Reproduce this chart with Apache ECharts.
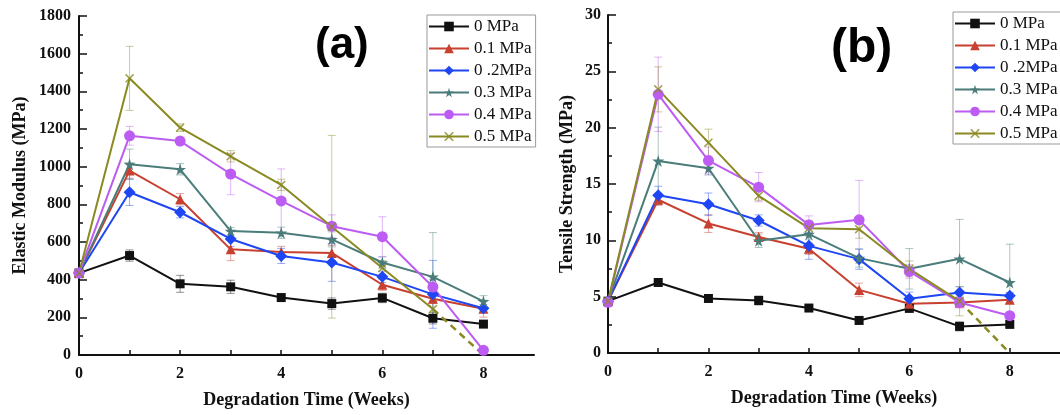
<!DOCTYPE html>
<html>
<head>
<meta charset="utf-8">
<script src="https://cdn.jsdelivr.net/npm/echarts@6/dist/echarts.min.js"></script>
<style>
  html, body { margin: 0; padding: 0; background: #fff; }
  #chart { width: 1060px; height: 415px; }
</style>
</head>
<body>
<div id="chart"></div>
<script>
// Degradation time (weeks)
const weeks = [0, 1, 2, 3, 4, 5, 6, 7, 8];
const seriesNames = ['0 MPa', '0.1 MPa', '0 .2MPa', '0.3 MPa', '0.4 MPa', '0.5 MPa'];

// (a) Elastic modulus (MPa) and error half-widths
const modulus0 = [435, 528, 378, 362, 305, 273, 303, 195, 164];
const modulus1 = [435, 979, 827, 561, 547, 542, 373, 299, 246];
const modulus2 = [435, 864, 758, 616, 526, 491, 415, 322, 248];
const modulus3 = [435, 1013, 986, 658, 649, 614, 491, 415, 285];
const modulus4 = [435, 1164, 1136, 961, 818, 684, 628, 361, 25];
const modulus5 = [435, 1469, 1207, 1055, 903, 681, 462, 244, 0];
const modulusErr0 = [0, 30, 45, 35, 20, 30, 25, 30, 15];
const modulusErr1 = [0, 40, 30, 60, 30, 40, 30, 25, 45];
const modulusErr2 = [0, 70, 30, 40, 40, 100, 30, 180, 20];
const modulusErr3 = [0, 80, 30, 20, 30, 40, 30, 235, 30];
const modulusErr4 = [0, 50, 20, 110, 170, 60, 106, 40, 20];
const modulusErr5 = [0, 170, 20, 30, 30, 485, 40, 40, 0];

// (b) Tensile strength (MPa) and error half-widths
const strength0 = [4.6, 6.26, 4.84, 4.66, 3.99, 2.89, 3.96, 2.36, 2.54];
const strength1 = [4.6, 13.6, 11.5, 10.3, 9.25, 5.6, 4.37, 4.49, 4.73];
const strength2 = [4.6, 14.0, 13.2, 11.76, 9.51, 8.33, 4.81, 5.37, 5.08];
const strength3 = [4.6, 17.05, 16.4, 9.96, 10.55, 8.42, 7.47, 8.36, 6.26];
const strength4 = [4.5, 22.96, 17.08, 14.72, 11.37, 11.82, 7.24, 4.49, 3.31];
const strength5 = [4.6, 23.4, 18.67, 13.95, 11.08, 10.99, 7.47, 4.6, 0];
const strengthErr0 = [0, 0.3, 0.3, 0.4, 0.2, 0.3, 0.3, 0.4, 0.2];
const strengthErr1 = [0, 0.5, 0.8, 0.4, 0.5, 0.6, 0.4, 0.4, 0.3];
const strengthErr2 = [0, 0.8, 1.0, 0.5, 1.2, 0.9, 0.6, 0.5, 0.3];
const strengthErr3 = [0, 3.0, 0.6, 0.6, 0.5, 0.8, 1.8, 3.5, 3.4];
const strengthErr4 = [0, 3.3, 1.2, 1.3, 0.8, 3.5, 0.6, 0.5, 0.3];
const strengthErr5 = [0, 2.0, 1.2, 0.4, 0.7, 0.8, 0.7, 1.3, 0];

// Axis ticks
const modulusTicks = { min: 0, max: 1800, interval: 200 };
const strengthTicks = { min: 0, max: 30, interval: 5 };
const weekTicks = { min: 0, max: 9, interval: 1, labelled: [0, 2, 4, 6, 8] };

const colors = ['#111111', '#c8402f', '#1e46f2', '#4a7d7a', '#bd5cf2', '#8a8a22'];
const STAR = 'path://M50,0 L61,35 L98,35 L68,57 L79,91 L50,70 L21,91 L32,57 L2,35 L39,35 Z';
const CROSS = 'path://M0,12 L12,0 L50,38 L88,0 L100,12 L62,50 L100,88 L88,100 L50,62 L12,100 L0,88 L38,50 Z';
const symbols = ['rect', 'triangle', 'diamond', STAR, 'circle', CROSS];
const symbolSizes = [9, 10, 12, 12, 11, 9];

const serif = "'Liberation Serif', 'DejaVu Serif', serif";

function pairs(vals) { return weeks.map((w, i) => [w, vals[i]]); }

function errorBars(gi, vals, errs, color) {
  const data = weeks.map((w, i) => [w, vals[i] - errs[i], vals[i] + errs[i]]).filter((d, i) => errs[i] > 0);
  return {
    type: 'custom', xAxisIndex: gi, yAxisIndex: gi, silent: true, z: 1,
    data: data,
    renderItem: function (params, api) {
      const lo = api.coord([api.value(0), api.value(1)]);
      const hi = api.coord([api.value(0), api.value(2)]);
      const cap = 4;
      const style = { stroke: color, lineWidth: 1, opacity: 0.45 };
      return {
        type: 'group',
        children: [
          { type: 'line', shape: { x1: lo[0], y1: lo[1], x2: hi[0], y2: hi[1] }, style: style },
          { type: 'line', shape: { x1: lo[0] - cap, y1: lo[1], x2: lo[0] + cap, y2: lo[1] }, style: style },
          { type: 'line', shape: { x1: hi[0] - cap, y1: hi[1], x2: hi[0] + cap, y2: hi[1] }, style: style }
        ]
      };
    }
  };
}

function panelSeries(gi, valueSets, errSets) {
  const out = [];
  valueSets.forEach((vals, k) => {
    out.push(errorBars(gi, vals, errSets[k], colors[k]));
  });
  valueSets.forEach((vals, k) => {
    const last = k === 5;
    // the 0.5 MPa curve is solid up to week 7, then dashed to its final value
    const solidData = last ? pairs(vals).slice(0, 8) : pairs(vals);
    out.push({
      name: seriesNames[k], type: 'line', xAxisIndex: gi, yAxisIndex: gi,
      data: solidData, z: 3,
      symbol: symbols[k], symbolSize: symbolSizes[k], showSymbol: true,
      itemStyle: { color: colors[k], opacity: last ? 0.8 : 1 },
      lineStyle: { color: colors[k], width: 2 },
      animation: false
    });
    if (last) {
      out.push({
        name: seriesNames[k] + ' ', type: 'line', xAxisIndex: gi, yAxisIndex: gi,
        data: pairs(vals).slice(7), z: 3, symbol: 'none',
        lineStyle: { color: colors[k], width: 2.5, type: [7, 5] },
        animation: false
      });
    }
  });
  return out;
}

function xAxisFor(gi) {
  return {
    type: 'value', gridIndex: gi, min: weekTicks.min, max: weekTicks.max, interval: weekTicks.interval,
    name: 'Degradation Time (Weeks)', nameLocation: 'middle', nameGap: 36,
    nameTextStyle: { fontFamily: serif, fontWeight: 'bold', fontSize: 18, color: '#111' },
    axisLine: { show: true, onZero: false, lineStyle: { color: '#111', width: 2 } },
    axisTick: { show: true, inside: true, length: 5, lineStyle: { color: '#111', width: 1.5 } },
    axisLabel: {
      fontFamily: serif, fontWeight: 'bold', fontSize: 16, color: '#111', margin: 11,
      showMaxLabel: false,
      formatter: v => weekTicks.labelled.indexOf(v) >= 0 ? String(v) : ''
    },
    splitLine: { show: false }
  };
}

function yAxisFor(gi, ticks, name, nameGap, margin) {
  return {
    type: 'value', gridIndex: gi, min: ticks.min, max: ticks.max, interval: ticks.interval,
    name: name, nameLocation: 'middle', nameGap: nameGap,
    nameTextStyle: { fontFamily: serif, fontWeight: 'bold', fontSize: 18, color: '#111' },
    axisLine: { show: true, lineStyle: { color: '#111', width: 2 } },
    axisTick: { show: true, inside: true, length: 8, lineStyle: { color: '#111', width: 1.5 } },
    minorTick: { show: true, splitNumber: 2, length: 4, lineStyle: { color: '#111', width: 1.5 } },
    axisLabel: { fontFamily: serif, fontWeight: 'bold', fontSize: 16, color: '#111', margin: margin, formatter: v => String(v) },
    splitLine: { show: false }
  };
}

function legendFor(left, top) {
  return {
    data: seriesNames, orient: 'vertical', left: left, top: top,
    itemWidth: 40, itemHeight: 12, itemGap: 5, itemTextGap: 3,
    padding: [3, 4, 2, 1],
    borderColor: '#999', borderWidth: 1, backgroundColor: '#fff',
    textStyle: { fontFamily: serif, fontSize: 17, color: '#111', lineHeight: 17 },
    selectedMode: false
  };
}

const chart = echarts.init(document.getElementById('chart'), null, { renderer: 'canvas' });
chart.setOption({
  animation: false,
  backgroundColor: '#fff',
  grid: [
    { left: 79, right: 526, top: 16, bottom: 60 },
    { left: 608, right: -3, top: 15, bottom: 62 }
  ],
  xAxis: [xAxisFor(0), xAxisFor(1)],
  yAxis: [
    yAxisFor(0, modulusTicks, 'Elastic Modulus (MPa)', 50, 8),
    yAxisFor(1, strengthTicks, 'Tensile Strength (MPa)', 32, 7)
  ],
  legend: [legendFor(427, 15), legendFor(953, 12)],
  graphic: [
    { type: 'text', left: 315, top: 24, style: { text: '(a)', font: 'bold 44px "Liberation Sans", Arial, sans-serif', fill: '#000' } },
    { type: 'text', left: 831, top: 25, style: { text: '(b)', font: 'bold 48px "Liberation Sans", Arial, sans-serif', fill: '#000' } }
  ],
  series: [].concat(
    panelSeries(0,
      [modulus0, modulus1, modulus2, modulus3, modulus4, modulus5],
      [modulusErr0, modulusErr1, modulusErr2, modulusErr3, modulusErr4, modulusErr5]),
    panelSeries(1,
      [strength0, strength1, strength2, strength3, strength4, strength5],
      [strengthErr0, strengthErr1, strengthErr2, strengthErr3, strengthErr4, strengthErr5])
  )
});
</script>
</body>
</html>
